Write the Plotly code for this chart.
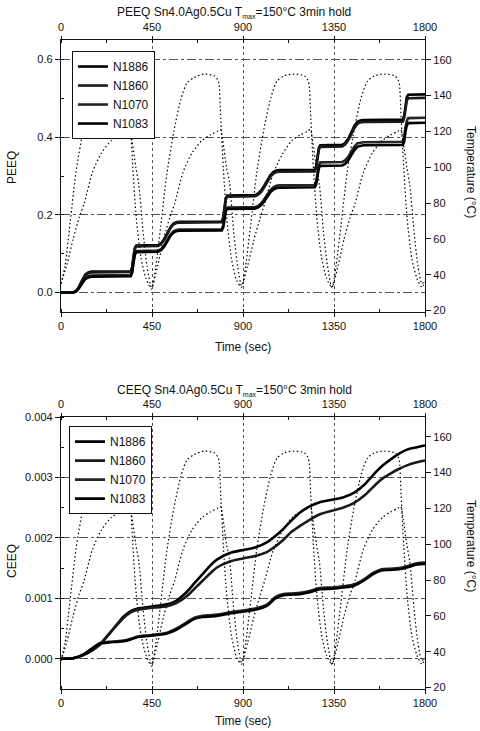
import plotly.graph_objects as go

# ---------------------------------------------------------------- data
nodes = ["N1886", "N1860", "N1070", "N1083"]

# equivalent plastic strain (PEEQ) history for the four nodes
peeq_time = [0, 60, 75, 90, 105, 120, 135, 150,
             345, 352, 358, 365, 372,
             480, 495, 510, 525, 540, 555, 570, 585,
             795, 802, 808, 815, 822,
             960, 975, 990, 1005, 1020, 1035, 1050, 1065, 1080,
             1255, 1262, 1268, 1275, 1282,
             1390, 1405, 1420, 1435, 1450, 1465, 1480, 1495,
             1690, 1697, 1703, 1710, 1717, 1800]
peeq_n1886 = [0, 0, 0.004, 0.016, 0.032, 0.046, 0.052, 0.054,
              0.055, 0.065, 0.092, 0.114, 0.121,
              0.122, 0.127, 0.137, 0.152, 0.167, 0.177, 0.181, 0.182,
              0.183, 0.193, 0.221, 0.243, 0.250,
              0.251, 0.255, 0.263, 0.275, 0.289, 0.302, 0.310, 0.314, 0.315,
              0.316, 0.326, 0.352, 0.372, 0.379,
              0.380, 0.385, 0.396, 0.412, 0.428, 0.439, 0.443, 0.444,
              0.445, 0.455, 0.485, 0.503, 0.509, 0.510]
peeq_n1860 = [0, 0, 0.004, 0.015, 0.031, 0.044, 0.050, 0.052,
              0.053, 0.063, 0.089, 0.112, 0.119,
              0.120, 0.125, 0.135, 0.150, 0.165, 0.175, 0.179, 0.180,
              0.181, 0.191, 0.218, 0.240, 0.247,
              0.248, 0.252, 0.259, 0.271, 0.285, 0.298, 0.306, 0.310, 0.311,
              0.312, 0.322, 0.348, 0.368, 0.375,
              0.376, 0.381, 0.392, 0.407, 0.423, 0.434, 0.438, 0.439,
              0.440, 0.449, 0.477, 0.494, 0.500, 0.501]
peeq_n1070 = [0, 0, 0.003, 0.013, 0.026, 0.037, 0.042, 0.044,
              0.045, 0.054, 0.080, 0.100, 0.107,
              0.108, 0.112, 0.121, 0.134, 0.148, 0.157, 0.161, 0.162,
              0.163, 0.172, 0.195, 0.214, 0.219,
              0.220, 0.223, 0.230, 0.240, 0.253, 0.264, 0.271, 0.275, 0.276,
              0.277, 0.286, 0.310, 0.328, 0.335,
              0.336, 0.340, 0.349, 0.362, 0.375, 0.384, 0.386, 0.387,
              0.388, 0.397, 0.424, 0.442, 0.449, 0.450]
peeq_n1083 = [0, 0, 0.003, 0.012, 0.024, 0.035, 0.039, 0.041,
              0.042, 0.051, 0.077, 0.097, 0.104,
              0.105, 0.109, 0.118, 0.131, 0.145, 0.154, 0.158, 0.159,
              0.160, 0.168, 0.191, 0.210, 0.215,
              0.216, 0.219, 0.225, 0.235, 0.247, 0.258, 0.265, 0.269, 0.270,
              0.271, 0.279, 0.302, 0.320, 0.326,
              0.327, 0.331, 0.340, 0.353, 0.366, 0.375, 0.378, 0.379,
              0.380, 0.388, 0.413, 0.430, 0.436, 0.437]

# equivalent creep strain (CEEQ) history
ceeq_time = [0, 60, 110, 150, 193, 235, 277, 310, 345, 380, 440, 524, 570,
             620, 660, 700, 740, 771, 835, 900, 960, 1020, 1060, 1100, 1140,
             1182, 1230, 1280, 1340, 1394, 1450, 1500, 1543, 1585, 1627,
             1670, 1711, 1760, 1800]
ceeq_n1886 = [0, 0.00001, 0.00006, 0.00013, 0.00024, 0.00040, 0.00057, 0.00070,
              0.00079, 0.00083, 0.00086, 0.00090, 0.00096, 0.00110, 0.00125,
              0.00140, 0.00155, 0.00164, 0.00175, 0.00180, 0.00184, 0.00193,
              0.00203, 0.00215, 0.00229, 0.00242, 0.00252, 0.00259, 0.00263,
              0.00267, 0.00275, 0.00288, 0.00304, 0.00318, 0.00329, 0.00339,
              0.00346, 0.00350, 0.00353]
ceeq_n1860 = [0, 0.00001, 0.00006, 0.00013, 0.00024, 0.00040, 0.00056, 0.00068,
              0.00077, 0.00081, 0.00084, 0.00087, 0.00092, 0.00103, 0.00116,
              0.00129, 0.00142, 0.00151, 0.00161, 0.00166, 0.00170, 0.00177,
              0.00186, 0.00197, 0.00210, 0.00220, 0.00230, 0.00239, 0.00245,
              0.00250, 0.00258, 0.00270, 0.00284, 0.00297, 0.00306, 0.00314,
              0.00320, 0.00325, 0.00328]
ceeq_n1070 = [0, 0.00001, 0.00007, 0.00016, 0.00026, 0.00028, 0.00029, 0.00030,
              0.00033, 0.00037, 0.00039, 0.00043, 0.00050, 0.00060, 0.00068,
              0.00071, 0.00072, 0.00073, 0.00077, 0.00080, 0.00083, 0.00090,
              0.00102, 0.00107, 0.00108, 0.00109, 0.00112, 0.00117, 0.00118,
              0.00120, 0.00123, 0.00132, 0.00142, 0.00148, 0.00149, 0.00150,
              0.00153, 0.00158, 0.00159]
ceeq_n1083 = [0, 0.00001, 0.00007, 0.00016, 0.00025, 0.00027, 0.00028, 0.00029,
              0.00032, 0.00036, 0.00038, 0.00042, 0.00048, 0.00058, 0.00066,
              0.00069, 0.00070, 0.00071, 0.00075, 0.00078, 0.00081, 0.00088,
              0.00100, 0.00105, 0.00106, 0.00107, 0.00110, 0.00115, 0.00116,
              0.00118, 0.00121, 0.00130, 0.00140, 0.00146, 0.00147, 0.00148,
              0.00151, 0.00156, 0.00157]

# thermal cycle: fast-responding location (reaches Tmax with 3 min hold)
temp_fast_time = [0, 20, 45, 75, 110, 145, 175, 210, 260, 310, 330, 342, 355, 372, 395, 420,
                  448, 468, 493, 523, 558, 593, 623, 658, 708, 758, 778, 790, 803, 820, 843, 868,
                  893, 913, 938, 968, 1003, 1038, 1068, 1103, 1153, 1203, 1223, 1235, 1248, 1265, 1288, 1313,
                  1340, 1360, 1385, 1415, 1450, 1485, 1515, 1550, 1600, 1650, 1670, 1682, 1695, 1712, 1735, 1760,
                  1785, 1800]
temp_fast = [35, 45, 69, 98, 121, 139, 148, 151, 152, 151, 148, 128, 100, 72, 50, 38,
             32, 44, 67, 96, 120, 138, 147, 150, 152, 151, 148, 127, 99, 71, 49, 37,
             33, 45, 68, 97, 121, 139, 148, 151, 152, 151, 148, 128, 100, 72, 50, 38,
             33, 45, 68, 97, 121, 139, 148, 151, 152, 151, 148, 127, 99, 71, 49, 38,
             33, 36]
# thermal cycle: slow-responding location
temp_slow_time = [0, 30, 60, 90, 115, 155, 200, 250, 290, 325, 340, 352, 370, 385, 405, 425,
                  448, 478, 508, 538, 563, 603, 648, 698, 738, 773, 788, 800, 818, 833, 853, 873,
                  893, 923, 953, 983, 1008, 1048, 1093, 1143, 1183, 1218, 1233, 1245, 1263, 1278, 1298, 1318,
                  1340, 1370, 1400, 1430, 1455, 1495, 1540, 1590, 1630, 1665, 1680, 1692, 1710, 1725, 1745, 1765,
                  1785, 1800]
temp_slow = [35, 46, 60, 72, 80, 97, 108, 115, 118, 120, 121, 114, 100, 90, 65, 45,
             33, 45, 60, 72, 80, 97, 108, 115, 118, 120, 121, 115, 100, 92, 65, 45,
             34, 45, 59, 71, 80, 96, 107, 115, 118, 120, 121, 114, 100, 90, 64, 45,
             33, 45, 60, 72, 80, 97, 108, 115, 118, 120, 121, 114, 100, 90, 65, 45,
             35, 37]

time_ticks = [0, 450, 900, 1350, 1800]
peeq_ticks = [0.0, 0.2, 0.4, 0.6]
peeq_labels = ["0.0", "0.2", "0.4", "0.6"]
ceeq_ticks = [0.0, 0.001, 0.002, 0.003, 0.004]
ceeq_labels = ["0.000", "0.001", "0.002", "0.003", "0.004"]
temp_ticks = [20, 40, 60, 80, 100, 120, 140, 160]

# ---------------------------------------------------------------- styling
FONT = "Arial, Liberation Sans, sans-serif"
INK = "#111111"
node_colors = ["#000000", "#1a1a1a", "#262626", "#000000"]

fig = go.Figure()

peeq_series = [peeq_n1886, peeq_n1860, peeq_n1070, peeq_n1083]
ceeq_series = [ceeq_n1886, ceeq_n1860, ceeq_n1070, ceeq_n1083]

for name, vals, col in zip(nodes, peeq_series, node_colors):
    fig.add_trace(go.Scatter(x=peeq_time, y=vals, name=name, mode="lines",
                             line=dict(color=col, width=2.6),
                             xaxis="x", yaxis="y", legend="legend"))
for name, vals, col in zip(nodes, ceeq_series, node_colors):
    fig.add_trace(go.Scatter(x=ceeq_time, y=vals, name=name, mode="lines",
                             line=dict(color=col, width=2.6, shape="spline", smoothing=0.8),
                             xaxis="x3", yaxis="y3", legend="legend2"))

# temperature histories on the right-hand axes of both panels
for xa, ya in (("x2", "y2"), ("x4", "y4")):
    for tt, tv in ((temp_fast_time, temp_fast), (temp_slow_time, temp_slow)):
        fig.add_trace(go.Scatter(x=tt, y=tv, mode="lines", showlegend=False,
                                 line=dict(color="#000000", width=1.2, dash="1.5px,2.5px",
                                           shape="spline", smoothing=0.7),
                                 xaxis=xa, yaxis=ya, hoverinfo="skip"))

tickfont = dict(family=FONT, size=11, color=INK)


def x_bottom(anchor):
    return dict(domain=[0, 1], anchor=anchor, range=[0, 1800],
                tickvals=time_ticks, ticks="outside", ticklen=4, tickwidth=1,
                tickcolor=INK, tickfont=tickfont, showline=True, linecolor=INK,
                linewidth=1.3, showgrid=True, gridcolor="#555555", gridwidth=1,
                griddash="dot", zeroline=False,
                minor=dict(dtick=225, ticks="inside", ticklen=3, tickcolor=INK, showgrid=False))


def x_top(over, anchor):
    return dict(overlaying=over, anchor=anchor, side="top", range=[0, 1800],
                tickvals=time_ticks, ticks="outside", ticklen=3, tickwidth=1,
                tickcolor=INK, tickfont=tickfont, showline=True, linecolor=INK,
                linewidth=1.3, showgrid=False, zeroline=False,
                minor=dict(dtick=225, ticks="inside", ticklen=3, tickcolor=INK, showgrid=False))


def y_temp(over, anchor):
    return dict(overlaying=over, anchor=anchor, side="right", range=[19.2, 171],
                tickvals=temp_ticks, ticks="outside", ticklen=5, tickwidth=1,
                tickcolor=INK, tickfont=tickfont, showline=True, linecolor=INK,
                linewidth=1.3, showgrid=False, zeroline=False)


top_dom = [0.5809, 1.0]
bot_dom = [0.0, 0.4191]

legend_style = dict(xanchor="left", yanchor="top", bgcolor="white",
                    bordercolor=INK, borderwidth=1,
                    font=dict(family=FONT, size=12, color=INK),
                    tracegroupgap=0, itemwidth=30)

fig.update_layout(
    width=480, height=731,
    margin=dict(l=61, r=55, t=40, b=42),
    paper_bgcolor="white", plot_bgcolor="white",
    font=dict(family=FONT, color=INK),
    xaxis=x_bottom("y"),
    xaxis2=x_top("x", "y"),
    xaxis3=x_bottom("y3"),
    xaxis4=x_top("x3", "y3"),
    yaxis=dict(domain=top_dom, anchor="x", range=[-0.05, 0.65],
               tickvals=peeq_ticks, ticktext=peeq_labels, ticks="outside",
               ticklen=5, tickwidth=1, tickcolor=INK, tickfont=tickfont,
               showline=True, linecolor=INK, linewidth=1.3, showgrid=True,
               gridcolor="#555555", gridwidth=1, griddash="dashdot", zeroline=False,
               minor=dict(dtick=0.1, ticks="inside", ticklen=3, tickcolor=INK, showgrid=False)),
    yaxis2=y_temp("y", "x"),
    yaxis3=dict(domain=bot_dom, anchor="x3", range=[-0.0005, 0.004],
                tickvals=ceeq_ticks, ticktext=ceeq_labels, ticks="outside",
                ticklen=5, tickwidth=1, tickcolor=INK, tickfont=tickfont,
                showline=True, linecolor=INK, linewidth=1.3, showgrid=True,
                gridcolor="#555555", gridwidth=1, griddash="dashdot", zeroline=False,
                minor=dict(dtick=0.0005, ticks="inside", ticklen=3, tickcolor=INK, showgrid=False)),
    yaxis4=y_temp("y3", "x3"),
    legend=dict(x=0.030, y=0.983, **legend_style),
    legend2=dict(x=0.022, y=0.405, **legend_style),
    showlegend=True,
)

title_font = dict(family=FONT, size=12, color=INK)
axis_font = dict(family=FONT, size=12, color=INK)


def py(pixel_y):
    # pixel row -> paper coordinate for this figure's margins
    return (689 - pixel_y) / 649.0


def px(pixel_x):
    return (pixel_x - 61) / 364.0


sub_max = "<sub><span style='font-size:7px'>max</span></sub>"
annotations = [
    dict(text="PEEQ Sn4.0Ag0.5Cu T" + sub_max + "=150°C 3min hold", x=px(234), y=py(12),
         font=title_font),
    dict(text="CEEQ Sn4.0Ag0.5Cu T" + sub_max + "=150°C 3min hold", x=px(234), y=py(390),
         font=title_font),
    dict(text="Time (sec)", x=px(243), y=py(347), font=axis_font),
    dict(text="Time (sec)", x=px(243), y=py(721), font=axis_font),
    dict(text="PEEQ", x=px(12), y=py(168), textangle=-90, font=axis_font),
    dict(text="CEEQ", x=px(12), y=py(561), textangle=-90, font=axis_font),
    dict(text="Temperature (°C)", x=px(471), y=py(172), textangle=90, font=axis_font),
    dict(text="Temperature (°C)", x=px(471), y=py(546), textangle=90, font=axis_font),
]
for a in annotations:
    a.update(xref="paper", yref="paper", showarrow=False, xanchor="center", yanchor="middle")
fig.update_layout(annotations=annotations)

fig.write_html("out.html")
